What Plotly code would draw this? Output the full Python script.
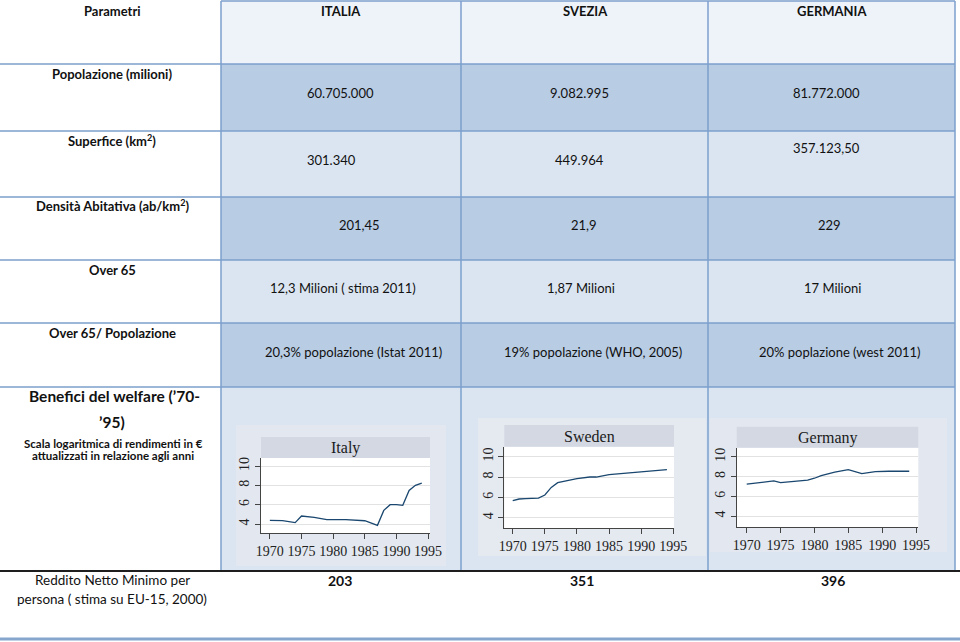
import plotly.graph_objects as go

W, H = 960, 642

# ---------------- data ----------------
countries = ["ITALIA", "SVEZIA", "GERMANIA"]
row_labels = ["Parametri", "Popolazione (milioni)", "Superfice (km<sup>2</sup>)",
              "Densità Abitativa (ab/km<sup>2</sup>)", "Over 65", "Over 65/ Popolazione"]
popolazione = ["60.705.000", "9.082.995", "81.772.000"]
superficie = ["301.340", "449.964", "357.123,50"]
densita = ["201,45", "21,9", "229"]
over65 = ["12,3 Milioni ( stima 2011)", "1,87 Milioni", "17 Milioni"]
over65_pop = ["20,3% popolazione (Istat 2011)", "19% popolazione (WHO, 2005)", "20% poplazione (west 2011)"]
reddito = ["203", "351", "396"]

years_it = [1970, 1972, 1974, 1975, 1977, 1979, 1980, 1982, 1985, 1987, 1988, 1989, 1990, 1991, 1992, 1993, 1994]
italy = [4.38, 4.35, 4.14, 4.83, 4.69, 4.45, 4.45, 4.45, 4.34, 3.86, 5.41, 6.0, 6.0, 5.93, 7.48, 8.0, 8.24]

years_se = [1970, 1971, 1972, 1974, 1975, 1976, 1977, 1978, 1980, 1982, 1983, 1985, 1987, 1989, 1990, 1991, 1994]
sweden = [5.67, 5.84, 5.87, 5.93, 6.23, 6.98, 7.44, 7.57, 7.84, 8.0, 8.0, 8.23, 8.33, 8.49, 8.52, 8.52, 8.72]

years_de = [1970, 1972, 1974, 1975, 1977, 1979, 1980, 1981, 1983, 1985, 1987, 1989, 1991, 1993, 1994]
germany = [7.24, 7.37, 7.57, 7.40, 7.50, 7.64, 7.84, 8.11, 8.45, 8.72, 8.31, 8.52, 8.55, 8.58, 8.55]

chart_titles = ["Italy", "Sweden", "Germany"]
x_ticks = [1970, 1975, 1980, 1985, 1990, 1995]
y_ticks = [4, 6, 8, 10]

# ---------------- helpers ----------------
def px(x):
    return x / W

def py(y):
    return 1 - y / H

shapes = []
annots = []

def rect(x0, y0, x1, y1, color):
    shapes.append(dict(type="rect", xref="paper", yref="paper", x0=px(x0), x1=px(x1),
                       y0=py(y1), y1=py(y0), fillcolor=color, line=dict(width=0), layer="below"))

def line(x0, y0, x1, y1, color, width):
    shapes.append(dict(type="line", xref="paper", yref="paper", x0=px(x0), x1=px(x1),
                       y0=py(y0), y1=py(y1), line=dict(color=color, width=width), layer="below"))

def text(x, y, s, size=12, bold=False, family="Lato", color="#111"):
    if bold:
        s = "<b>" + s + "</b>"
    annots.append(dict(x=px(x), y=py(y), xref="paper", yref="paper", text=s, showarrow=False,
                       xanchor="center", yanchor="middle",
                       font=dict(family=family, size=size, color=color)))

# ---------------- table ----------------
col_x = [221, 461, 708, 955]
row_y = [1, 64, 131, 197, 260, 323, 387, 571]
fills = ["#eef3fa", "#b8cce4", "#dbe5f1", "#b8cce4", "#dbe5f1", "#b8cce4", "#dbe5f1"]
for i in range(7):
    rect(col_x[0], row_y[i], col_x[3], row_y[i + 1], fills[i])

# embedded chart image backgrounds
rect(236, 425, 446, 566, "#e3e8f0")
rect(478, 418, 706, 556, "#e5e9f0")
rect(710, 418, 947, 552, "#e3e8f0")

border = "#7c9fcc"
line(col_x[0], row_y[0], col_x[3], row_y[0], border, 1.5)
for yy in row_y[1:7]:
    line(0, yy, col_x[3], yy, border, 1.5)
for xx in col_x:
    line(xx, row_y[0], xx, 571, border, 1.5)
line(0, 571, W, 571, "#1e1e1e", 2)
line(0, 639, W, 639, "#86a6ce", 3)

# left labels
label_y = [11, 74, 141, 205, 270, 333]
for lab, yy in zip(row_labels, label_y):
    text(112, yy, lab, size=13, bold=True)

# header & values
col_centers = [341, 585, 832]
for c, cx in zip(countries, col_centers):
    text(cx, 11, c, size=13, bold=True)

for s, cx in zip(popolazione, [340, 579, 826]):
    text(cx, 93, s, size=13)
for s, cx, yy in zip(superficie, [331, 579, 826], [160, 160, 148]):
    text(cx, yy, s, size=13)
for s, cx in zip(densita, [359, 584, 829]):
    text(cx, 225, s, size=13)
for s, cx in zip(over65, [343, 581, 832]):
    text(cx, 288, s, size=13)
for s, cx in zip(over65_pop, [353, 593, 840]):
    text(cx, 352, s, size=13)
for s, cx in zip(reddito, [340, 582, 833]):
    text(cx, 580, s, size=14, bold=True)

# welfare label
text(114, 396, "Benefici del welfare (’70-", size=15.5, bold=True)
text(112, 422, "’95)", size=15.5, bold=True)
text(113, 443, "Scala logaritmica di rendimenti in €", size=11.5, bold=True)
text(113, 455, "attualizzati in relazione agli anni", size=11.5, bold=True)

# reddito label
text(112, 580, "Reddito Netto Minimo per", size=13.5)
text(112, 599, "persona ( stima su EU-15, 2000)", size=13.5)

# ---------------- charts ----------------
charts = [
    dict(title=chart_titles[0], x=years_it, y=italy, px0=261, px1=430, py0=458, py1=533,
         strip=(261, 437, 430, 458), xr=[1968.6, 1995.3], yr=[3.07, 10.83]),
    dict(title=chart_titles[1], x=years_se, y=sweden, px0=504.3, px1=674, py0=446.7, py1=528.3,
         strip=(504.3, 425, 674, 446.7), xr=[1968.69, 1995.1], yr=[2.96, 10.98]),
    dict(title=chart_titles[2], x=years_de, y=germany, px0=736.7, px1=918.3, py0=447.7, py1=527.3,
         strip=(736.7, 426.7, 918.3, 447.7), xr=[1968.52, 1995.34], yr=[2.86, 10.94]),
]

fig = go.Figure()
layout_axes = {}
tickfont = dict(family="Liberation Serif", size=14, color="#222")
for i, ch in enumerate(charts, start=1):
    rect(ch["px0"], ch["py0"], ch["px1"], ch["py1"], "#ffffff")
    sx0, sy0, sx1, sy1 = ch["strip"]
    rect(sx0, sy0, sx1, sy1, "#d3d8e3")
    text((sx0 + sx1) / 2, (sy0 + sy1) / 2 + 0.5, ch["title"], size=16, family="Liberation Serif", color="#1a1a1a")

    xa = "x" if i == 1 else f"x{i}"
    ya = "y" if i == 1 else f"y{i}"
    fig.add_trace(go.Scatter(x=ch["x"], y=ch["y"], mode="lines", xaxis=xa, yaxis=ya,
                             line=dict(color="#1a476f", width=1.3), hoverinfo="skip"))
    xk = "xaxis" if i == 1 else f"xaxis{i}"
    yk = "yaxis" if i == 1 else f"yaxis{i}"
    layout_axes[xk] = dict(domain=[px(ch["px0"]), px(ch["px1"])], range=ch["xr"], anchor=ya,
                           tickvals=x_ticks, tickangle=0, ticks="outside", ticklen=5, tickcolor="#444",
                           showline=True, linecolor="#444", linewidth=1, showgrid=False,
                           zeroline=False, tickfont=tickfont, fixedrange=True, automargin=False)
    layout_axes[yk] = dict(domain=[py(ch["py1"]), py(ch["py0"])], range=ch["yr"], anchor=xa,
                           tickvals=y_ticks, tickangle=-90, ticks="outside", ticklen=5,
                           tickcolor="#444", showline=True, linecolor="#444", linewidth=1,
                           showgrid=True, gridcolor="#e2e2e2", gridwidth=1, zeroline=False,
                           tickfont=tickfont, fixedrange=True, automargin=False)

fig.update_layout(width=W, height=H, autosize=False,
                  margin=dict(l=0, r=0, t=0, b=0, pad=0, autoexpand=False),
                  paper_bgcolor="#ffffff", plot_bgcolor="rgba(0,0,0,0)", showlegend=False,
                  shapes=shapes, annotations=annots, **layout_axes)

post = (
    "document.body.style.margin='0';"
    "document.body.style.overflow='hidden';"
)

fig.write_html("out.html", config={"responsive": False, "displayModeBar": False},
               post_script=post)
